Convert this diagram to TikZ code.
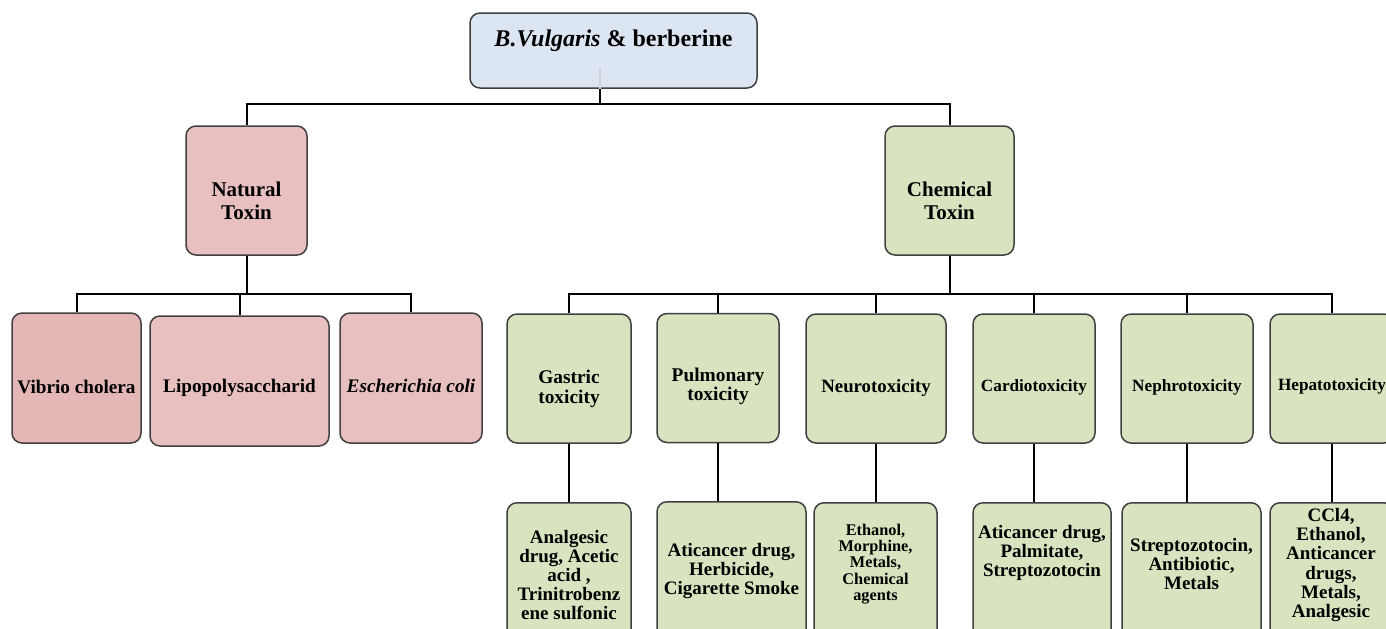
\documentclass[tikz,border=0pt]{standalone}
\usepackage{fontspec}
\setmainfont{Liberation Serif}
\usetikzlibrary{positioning}

\definecolor{titleblue}{HTML}{DCE6F2}
\definecolor{naturalpink}{HTML}{E7C0BF}
\definecolor{vibriopink}{HTML}{E4B6B5}
\definecolor{chemicalgreen}{HTML}{D8E4BF}
\definecolor{boxline}{HTML}{404040}

\newcommand{\padtop}[1]{\rule{0pt}{#1}}

\begin{document}
\begin{tikzpicture}[x=0.5pt, y=-0.5pt]
  \tikzstyle{box} = [rectangle, rounded corners=5pt, draw=boxline, line width=0.75pt, align=center, inner sep=2pt]
  \tikzstyle{titlebox} = [box, fill=titleblue, minimum width=143.5pt, minimum height=37.5pt, font=\bfseries\fontsize{12}{14}\selectfont]
  \tikzstyle{toxinbox} = [box, minimum height=64.5pt, font=\bfseries\fontsize{10.5}{11.5}\selectfont]
  \tikzstyle{naturalbox} = [box, fill=naturalpink, minimum height=65pt, font=\bfseries\fontsize{9.6}{11}\selectfont]
  \tikzstyle{effectbox} = [box, fill=chemicalgreen, minimum height=64.5pt, font=\bfseries\fontsize{8.6}{9.6}\selectfont]
  \tikzstyle{bigeffect} = [font=\bfseries\fontsize{9.7}{9.6}\selectfont]
  \tikzstyle{agentbox} = [box, fill=chemicalgreen, anchor=north, minimum height=80pt]
  \tikzstyle{agenttext} = [align=center, inner sep=0pt, font=\bfseries\fontsize{9.5}{9.6}\selectfont]
  \tikzstyle{link} = [line width=1pt]

  \path[use as bounding box] (0,0) rectangle (1386,628);
  \clip (0,0) rectangle (1386,628);

  % top
  \node (title) [titlebox] at (613.5,50.5) {\textit{B.Vulgaris} \& berberine\rule[-12pt]{0pt}{0pt}};

  % two kinds of toxin
  \node (natural-toxin) [toxinbox, fill=naturalpink, minimum width=60.5pt] at (246.5,190.5) {\padtop{18pt}Natural\\Toxin};
  \node (chemical-toxin) [toxinbox, fill=chemicalgreen, minimum width=64.5pt] at (949.5,190.5) {\padtop{18pt}Chemical\\Toxin};

  % natural toxins
  \node (vibrio-cholera) [naturalbox, fill=vibriopink, minimum width=64.5pt] at (76.5,378) {\padtop{16pt}Vibrio cholera};
  \node (lipopolysaccharid) [naturalbox, minimum width=89.5pt] at (239.5,381) {\padtop{14pt}Lipopolysaccharid};
  \node (escherichia-coli) [naturalbox, minimum width=71pt] at (411,378) {\padtop{15pt}\textit{Escherichia coli}};

  % chemical toxicities
  \node (gastric-toxicity) [effectbox, bigeffect, minimum width=62pt] at (569,378.5) {\padtop{17pt}Gastric\\toxicity};
  \node (pulmonary-toxicity) [effectbox, bigeffect, minimum width=61pt] at (718,378) {\padtop{15pt}Pulmonary\\toxicity};
  \node (neurotoxicity) [effectbox, font=\bfseries\fontsize{9.4}{9.6}\selectfont, minimum width=70pt] at (876,378.5) {\padtop{16pt}Neurotoxicity};
  \node (cardiotoxicity) [effectbox, minimum width=61pt] at (1034,378.5) {\padtop{15pt}Cardiotoxicity};
  \node (nephrotoxicity) [effectbox, minimum width=66pt] at (1187,378.5) {\padtop{15pt}Nephrotoxicity};
  \node (hepatotoxicity) [effectbox, minimum width=62pt] at (1332,378.5) {\padtop{14pt}Hepatotoxicity};

  % agents
  \node (gastric-agents) [agentbox, minimum width=62pt] at (569,502) {};
  \node (pulmonary-agents) [agentbox, minimum width=74.5pt] at (731.5,501) {};
  \node (neuro-agents) [agentbox, minimum width=61.5pt] at (875.5,502) {};
  \node (cardio-agents) [agentbox, minimum width=69pt] at (1042,502) {};
  \node (nephro-agents) [agentbox, minimum width=69.5pt] at (1191.5,502) {};
  \node (hepato-agents) [agentbox, minimum width=62pt] at (1332,502) {};

  \node (gastric-agents-text) [agenttext] at (569,575) {Analgesic\\drug, Acetic\\acid ,\\Trinitrobenz\\ene sulfonic};
  \node (pulmonary-agents-text) [agenttext] at (731.5,571) {Aticancer drug,\\Herbicide,\\Cigarette Smoke};
  \node (neuro-agents-text) [agenttext, font=\bfseries\fontsize{8.15}{8.2}\selectfont] at (875.5,564) {Ethanol,\\Morphine,\\Metals,\\Chemical\\agents};
  \node (cardio-agents-text) [agenttext] at (1042,553) {Aticancer drug,\\Palmitate,\\Streptozotocin};
  \node (nephro-agents-text) [agenttext] at (1191.5,564) {Streptozotocin,\\Antibiotic,\\Metals};
  \node (hepato-agents-text) [agenttext] at (1331,565) {CCl4,\\Ethanol,\\Anticancer\\drugs,\\Metals,\\Analgesic};

  % connectors
  \coordinate (title-stub) at (600,68);
  \coordinate (title-fork) at (600,104);
  \coordinate (natural-fork) at (246.5,294);
  \coordinate (chemical-fork) at (949.5,294);

  \draw [gray!35, line width=0.8pt] (title-stub) -- (title-stub |- title.south);
  \draw [link] (title-stub |- title.south) -- (title-fork);
  \draw [link] (natural-toxin.north) |- (title-fork) -| (chemical-toxin.north);

  \draw [link] (natural-toxin.south) -- (natural-fork);
  \draw [link] (vibrio-cholera.north) |- (natural-fork) -| (escherichia-coli.north);
  \draw [link] (lipopolysaccharid.north) -- (lipopolysaccharid.north |- natural-fork);

  \draw [link] (chemical-toxin.south) -- (chemical-fork);
  \draw [link] (gastric-toxicity.north) |- (chemical-fork) -| (hepatotoxicity.north);
  \foreach \n in {pulmonary-toxicity, neurotoxicity, cardiotoxicity, nephrotoxicity}
    \draw [link] (\n.north) -- (\n.north |- chemical-fork);

  \foreach \n/\m in {gastric-toxicity/gastric-agents, pulmonary-toxicity/pulmonary-agents, neurotoxicity/neuro-agents,
                     cardiotoxicity/cardio-agents, nephrotoxicity/nephro-agents, hepatotoxicity/hepato-agents}
    \draw [link] (\n.south) -- (\n.south |- \m.north);
\end{tikzpicture}
\end{document}
